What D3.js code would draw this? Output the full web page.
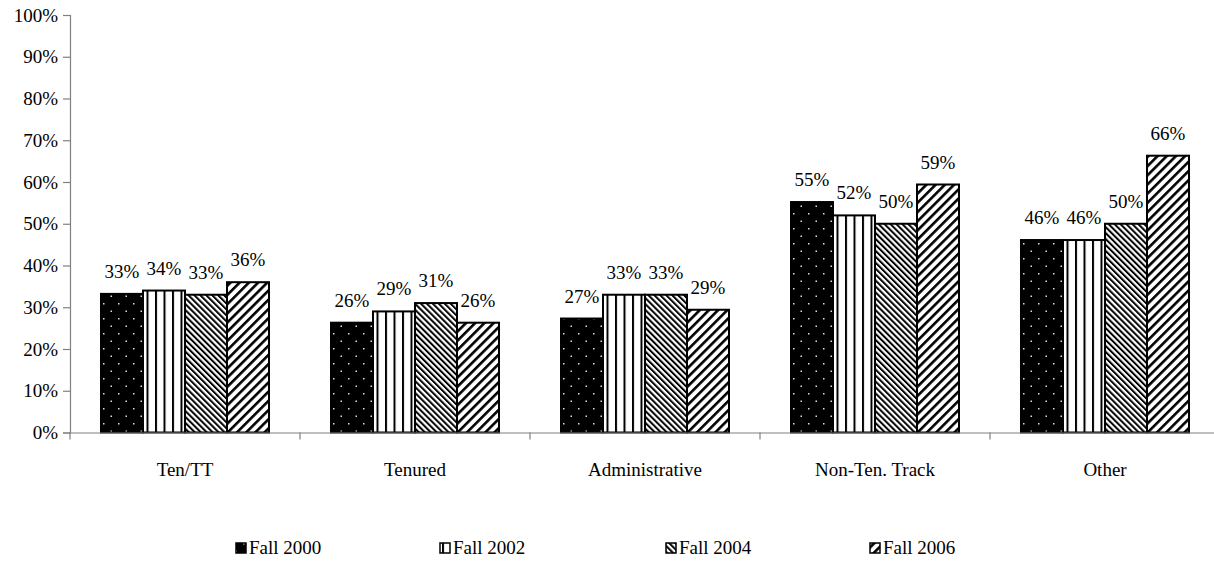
<!DOCTYPE html>
<html>
<head>
<meta charset="utf-8">
<script src="https://cdn.jsdelivr.net/npm/d3@7"></script>
<style>
  html, body { margin: 0; padding: 0; background: #fff; }
  svg { display: block; }
  svg text { font-family: "Liberation Serif", Tinos, "Times New Roman", Times, "DejaVu Serif", "Noto Serif", serif !important; fill: #000; }
</style>
</head>
<body>
<svg id="chart" width="1214" height="561"></svg>
<script>
const categories = ["Ten/TT", "Tenured", "Administrative", "Non-Ten. Track", "Other"];
const seriesNames = ["Fall 2000", "Fall 2002", "Fall 2004", "Fall 2006"];
const fall2000 = [33.2, 26.3, 27.3, 55.2, 46.1];
const fall2002 = [34.0, 29.0, 33.0, 52.0, 46.1];
const fall2004 = [33.0, 31.0, 33.0, 50.0, 50.0];
const fall2006 = [36.0, 26.3, 29.4, 59.4, 66.3];
const labels2000 = ["33%", "26%", "27%", "55%", "46%"];
const labels2002 = ["34%", "29%", "33%", "52%", "46%"];
const labels2004 = ["33%", "31%", "33%", "50%", "50%"];
const labels2006 = ["36%", "26%", "29%", "59%", "66%"];
const yTicks = [0, 10, 20, 30, 40, 50, 60, 70, 80, 90, 100];

const seriesValues = [fall2000, fall2002, fall2004, fall2006];
const seriesLabels = [labels2000, labels2002, labels2004, labels2006];
const patternIds = ["p2000", "p2002", "p2004", "p2006"];
const FONT = '"Liberation Serif", Tinos, "Times New Roman", Times, "DejaVu Serif", serif';

const svg = d3.select("#chart");
const defs = svg.append("defs");

// Fall 2000: black with white dots
const p0 = defs.append("pattern").attr("id", "p2000").attr("patternUnits", "userSpaceOnUse")
  .attr("width", 15).attr("height", 15);
p0.append("rect").attr("width", 15).attr("height", 15).attr("fill", "#000");
p0.append("rect").attr("x", 3).attr("y", 3).attr("width", 1.5).attr("height", 1.5).attr("fill", "#ddd");
p0.append("rect").attr("x", 10.5).attr("y", 10.5).attr("width", 1.5).attr("height", 1.5).attr("fill", "#ddd");

// Fall 2002: white with vertical lines
const p1 = defs.append("pattern").attr("id", "p2002").attr("patternUnits", "userSpaceOnUse")
  .attr("width", 8.5).attr("height", 10);
p1.append("rect").attr("width", 8.5).attr("height", 10).attr("fill", "#fff");
p1.append("rect").attr("x", 0).attr("y", 0).attr("width", 2).attr("height", 10).attr("fill", "#000");

// Fall 2004: dense "\" hatching
const p2 = defs.append("pattern").attr("id", "p2004").attr("patternUnits", "userSpaceOnUse")
  .attr("width", 4.2).attr("height", 4.2).attr("patternTransform", "rotate(-45)");
p2.append("rect").attr("width", 4.2).attr("height", 4.2).attr("fill", "#fff");
p2.append("rect").attr("x", 0).attr("y", 0).attr("width", 2).attr("height", 4.2).attr("fill", "#000");

// Fall 2006: wide "/" stripes
const p3 = defs.append("pattern").attr("id", "p2006").attr("patternUnits", "userSpaceOnUse")
  .attr("width", 6.5).attr("height", 6.5).attr("patternTransform", "rotate(45)");
p3.append("rect").attr("width", 6.5).attr("height", 6.5).attr("fill", "#fff");
p3.append("rect").attr("x", 0).attr("y", 0).attr("width", 2.6).attr("height", 6.5).attr("fill", "#000");

const x0 = 70, x1 = 1220, yTop = 15, yBot = 432.5;

const x = d3.scaleBand().domain(categories).range([x0, x1]).paddingInner(0).paddingOuter(0);
const xs = d3.scaleBand().domain(seriesNames).range([31, x.bandwidth() - 31]).padding(0);
const y = d3.scaleLinear().domain([0, 100]).range([yBot, yTop]);

// Bars
categories.forEach((c, ci) => {
  const g = svg.append("g").attr("transform", `translate(${x(c)},0)`);
  seriesNames.forEach((s, si) => {
    const v = seriesValues[si][ci];
    g.append("rect")
      .attr("x", xs(s)).attr("y", y(v))
      .attr("width", xs.bandwidth()).attr("height", y(0) - y(v))
      .attr("fill", `url(#${patternIds[si]})`)
      .attr("stroke", "#000").attr("stroke-width", 2);
    g.append("text")
      .attr("x", xs(s) + xs.bandwidth() / 2)
      .attr("y", y(v) - 16)
      .attr("text-anchor", "middle")
      .attr("font-family", FONT)
      .attr("font-size", "19px")
      .text(seriesLabels[si][ci]);
  });
});

// Y axis
const yAxis = d3.axisLeft(y).tickValues(yTicks).tickFormat(d => d + "%").tickSize(7).tickPadding(5);
const ga = svg.append("g").attr("transform", `translate(${x0},0)`).call(yAxis);
ga.attr("font-family", FONT);
ga.select(".domain").attr("stroke", "#808080").attr("stroke-width", 1.2);
ga.selectAll(".tick line").attr("stroke", "#808080").attr("stroke-width", 1.2);
ga.selectAll(".tick text").attr("font-size", "19px").attr("font-family", FONT).attr("fill", "#000");

// X axis
const xAxis = d3.axisBottom(x).tickSize(0).tickPadding(30);
const gx = svg.append("g").attr("transform", `translate(0,${yBot})`).call(xAxis);
gx.attr("font-family", FONT);
gx.select(".domain").attr("stroke", "#808080").attr("stroke-width", 1.2);
gx.selectAll(".tick text").attr("font-size", "19px").attr("font-family", FONT).attr("fill", "#000");
// category boundary ticks
const boundaries = categories.map(c => x(c));
gx.selectAll(".btick").data(boundaries).enter().append("line")
  .attr("x1", d => d).attr("x2", d => d).attr("y1", 0).attr("y2", 7)
  .attr("stroke", "#808080").attr("stroke-width", 1.2);

// Legend
const legendX = [236, 440, 666, 870];
const legendY = 548;
const lg = svg.append("g");
seriesNames.forEach((s, i) => {
  lg.append("rect").attr("x", legendX[i]).attr("y", legendY - 5).attr("width", 10).attr("height", 10)
    .attr("fill", `url(#${patternIds[i]})`).attr("stroke", "#000").attr("stroke-width", 1.5);
  lg.append("text").attr("x", legendX[i] + 13).attr("y", legendY + 6)
    .attr("font-family", FONT)
    .attr("font-size", "19px").text(s);
});
</script>
</body>
</html>
